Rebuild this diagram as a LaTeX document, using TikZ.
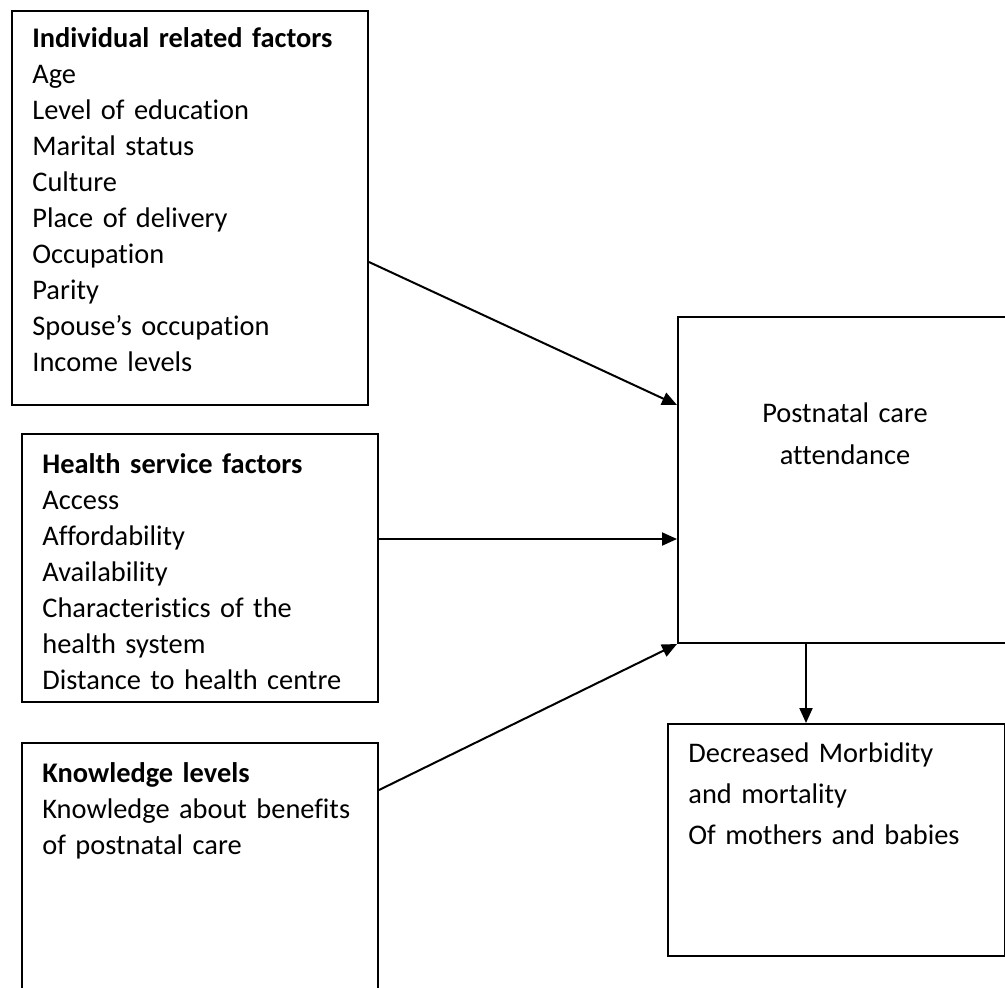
\documentclass[tikz,border=0pt]{standalone}
\usepackage{fontspec}
\setmainfont{Carlito}[Ligatures=NoCommon]
\usetikzlibrary{arrows.meta}

\begin{document}
\begin{tikzpicture}[x=0.5pt,y=-0.5pt,
			frame/.style={draw,line width=1pt,inner sep=0pt,anchor=north west},
			list/.style={anchor=base west,inner sep=0pt,text width=#1,align=left,font=\fontsize{14.2}{18}\selectfont},
			link/.style={-{Triangle[length=7.5pt,width=6.5pt]},line width=1pt}]
			\clip (0,0) rectangle (1005,987);
			% boxes
			\node[frame,minimum width=178pt,minimum height=197pt] (indiv) at (11,10) {};
			\node[frame,minimum width=178pt,minimum height=134pt] (health) at (21,433) {};
			\node[frame,minimum width=178pt,minimum height=129pt] (know) at (21,742) {};
			\node[frame,minimum width=168pt,minimum height=163pt] (post) at (677,316) {};
			\node[frame,minimum width=168.5pt,minimum height=116pt] (dec) at (667,723) {};
			% texts
			\node[list=170pt] (indivtxt) at (32,47) {\textbf{Individual related factors}\\Age\\Level of education\\Marital status\\Culture\\Place of delivery\\Occupation\\Parity\\Spouse’s occupation\\Income levels};
			\node[list=165pt] (healthtxt) at (42,473) {\textbf{Health service factors}\\Access\\Affordability\\Availability\\Characteristics of the\\health system\\Distance to health centre};
			\node[list=165pt] (knowtxt) at (42,782) {\textbf{Knowledge levels}\\Knowledge about benefits\\of postnatal care};
			\node[list=150pt,anchor=base,align=center,font=\fontsize{14.2}{21.3}\selectfont] (posttxt) at (845,422) {Postnatal care\\attendance};
			\node[list=150pt,font=\fontsize{14.2}{20.5}\selectfont] (dectxt) at (688,762) {Decreased Morbidity\\and mortality\\Of mothers and babies};
			% arrows
			\draw[link] ([yshift=-27pt]indiv.east) -- ([yshift=37.5pt]post.west);
			\draw[link] ([yshift=14.5pt]health.east) -- ([yshift=-29.5pt]post.west);
			\draw[link] ([yshift=41pt]know.east) -- (post.south west);
			\draw[link] ([xshift=-20pt]post.south) -- ([xshift=-20pt]post.south |- dec.north);
\end{tikzpicture}
\end{document}
